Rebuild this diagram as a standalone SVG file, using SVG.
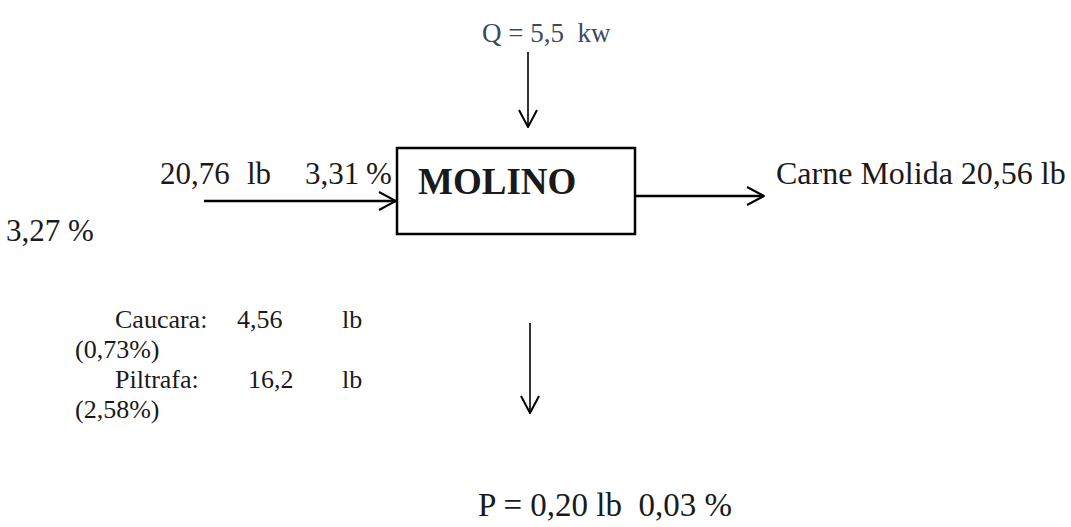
<svg xmlns="http://www.w3.org/2000/svg" width="1071" height="527" viewBox="0 0 1071 527">
<defs>
<style>
.t{font-family:"Liberation Serif","Times New Roman",serif;fill:#1a1a1a;white-space:pre}
.c{stroke:#000;stroke-width:2.5;fill:none}
.thin{stroke-width:1.6}
</style>
<marker id="ah" viewBox="0 0 20 20" refX="19" refY="10" markerWidth="20" markerHeight="20" markerUnits="userSpaceOnUse" orient="auto">
<path d="M2,1 L19,10 L2,19" fill="none" stroke="#000" stroke-width="2"/>
</marker>
</defs>
<rect width="1071" height="527" fill="#fff"/>
<g id="connectors">
<line class="c thin" x1="528" y1="52" x2="528" y2="127" marker-end="url(#ah)"/>
<line class="c" x1="204" y1="201" x2="396" y2="201" marker-end="url(#ah)"/>
<line class="c" x1="636" y1="196" x2="764" y2="196" marker-end="url(#ah)"/>
<line class="c thin" x1="530" y1="323" x2="530" y2="413" marker-end="url(#ah)"/>
</g>
<g id="molino">
<rect x="397" y="148" width="238" height="86" fill="#fff" stroke="#000" stroke-width="2.5"/>
<text class="t" x="418" y="194" font-size="37" font-weight="bold">MOLINO</text>
</g>
<g id="q">
<text class="t" x="482" y="42" font-size="27" style="fill:#3b4a5c">Q = 5,5  kw</text>
</g>
<g id="input">
<text class="t" y="184" font-size="31"><tspan x="160">20,76</tspan><tspan x="247">lb</tspan><tspan x="305">3,31</tspan><tspan x="366">%</tspan></text>
<text class="t" x="6" y="241" font-size="31">3,27 %</text>
<text class="t" y="328" font-size="26"><tspan x="115">Caucara:</tspan><tspan x="237">4,56</tspan><tspan x="342">lb</tspan></text>
<text class="t" x="75" y="358" font-size="26">(0,73%)</text>
<text class="t" y="388" font-size="26"><tspan x="115">Piltrafa:</tspan><tspan x="248">16,2</tspan><tspan x="342">lb</tspan></text>
<text class="t" x="75" y="418" font-size="26">(2,58%)</text>
</g>
<g id="output">
<text class="t" x="776" y="184" font-size="32">Carne Molida 20,56 lb</text>
</g>
<g id="loss">
<text class="t" x="478" y="516" font-size="33">P = 0,20 lb  0,03 %</text>
</g>
</svg>
